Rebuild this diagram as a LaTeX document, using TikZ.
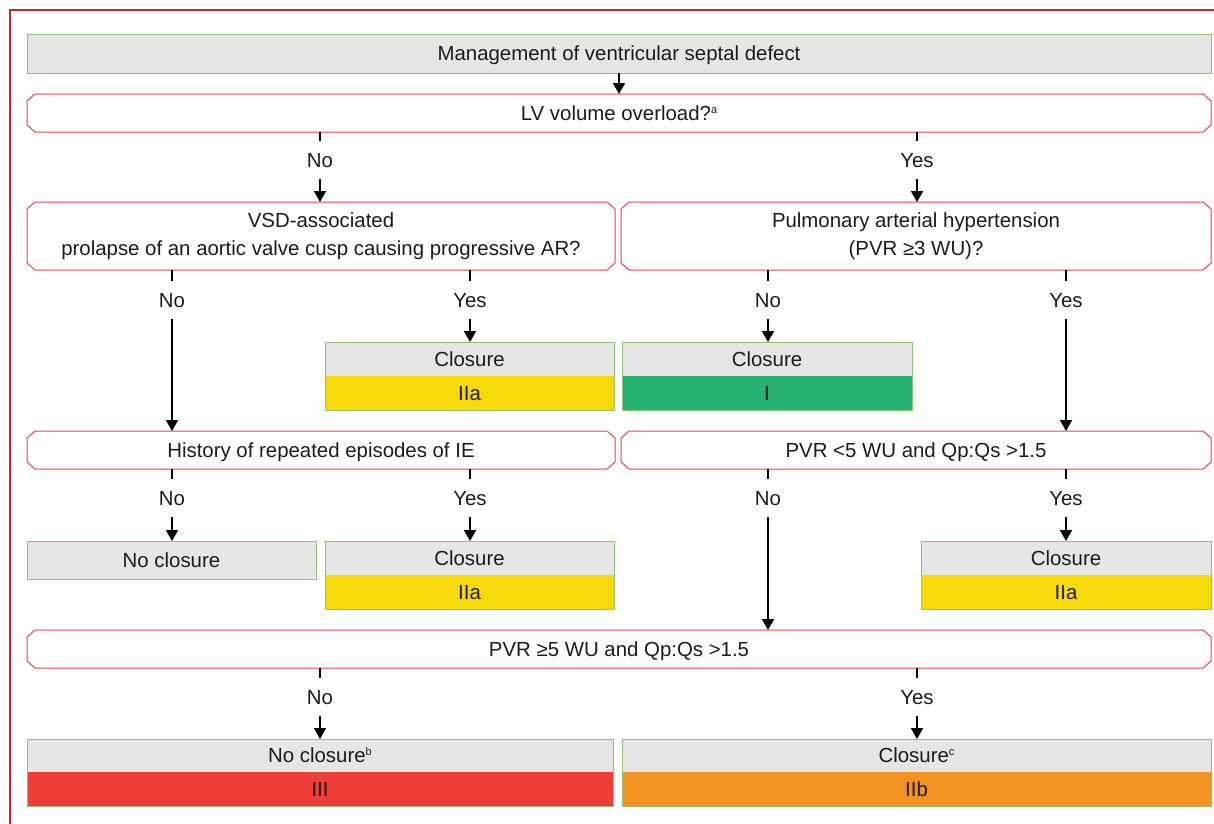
\documentclass[tikz,border=0pt]{standalone}
\usepackage{fontspec}
\setmainfont{Liberation Sans}
\usetikzlibrary{arrows.meta,calc}
\definecolor{framecol}{HTML}{C1272D}
\definecolor{qred}{HTML}{E0474F}
\definecolor{bgreen}{HTML}{8CC47A}
\definecolor{lgray}{HTML}{E6E6E6}
\definecolor{cyel}{HTML}{F7DA0A}
\definecolor{cgrn}{HTML}{27B273}
\definecolor{cred}{HTML}{EF3E36}
\definecolor{corg}{HTML}{F39322}
\definecolor{txt}{HTML}{1E1A1B}
\newcommand\chamfbox[1]{\draw[qline] ($(#1.north west)+(8,0)$) -- ($(#1.north east)+(-8,0)$) -- ($(#1.north east)+(0,7)$) -- ($(#1.south east)+(0,-7)$) -- ($(#1.south east)+(-8,0)$) -- ($(#1.south west)+(8,0)$) -- ($(#1.south west)+(0,-7)$) -- ($(#1.north west)+(0,7)$) -- cycle;}
\newcommand\twobox[2]{\draw[gline] (#1.north west) rectangle (#2.south east);}
\newcommand\supr[1]{\raisebox{7pt}{\fontsize{11}{11}\selectfont #1}}
\begin{document}
\begin{tikzpicture}[x=1pt,y=-1pt,
  base/.style={inner sep=0pt, outer sep=0pt, text=txt, font=\fontsize{20.4}{24}\selectfont, align=center},
  one/.style={base, text height=16.5pt, text depth=2.5pt},
  two/.style={base, font=\fontsize{20.4}{28}\selectfont},
  qline/.style={draw=qred, line width=1pt},
  gline/.style={draw=bgreen, line width=1pt},
  head/.style={one, fill=lgray},
  cls/.style={one, fill=#1},
  lbl/.style={one, minimum height=38pt},
  conn/.style={line width=1.8pt, black},
  arr/.style={conn, -{Triangle[width=12pt,length=11pt]}}
]
\useasboundingbox (0,0) rectangle (1214,823);
\draw[framecol, line width=2pt] (10,830) -- (10,10) -- (1220,10);

% title
\node[head, draw=bgreen, line width=1pt, minimum width=1184pt, minimum height=39pt] (title) at (619,53.5) {Management of ventricular septal defect};
% level 1
\node[one, minimum width=1184pt, minimum height=38pt] (lv) at (619,113) {LV volume overload?\supr{a}};
\chamfbox{lv}
\draw[arr] (title.south) -- (lv.north);
\node[lbl] (l1n) at (320,160) {No};
\node[lbl] (l1y) at (917,160) {Yes};
% level 2
\node[two, minimum width=588pt, minimum height=68pt] (vsd) at (321,236) {VSD-associated\\prolapse of an aortic valve cusp causing progressive AR?};
\chamfbox{vsd}
\node[two, minimum width=590pt, minimum height=68pt] (pah) at (916,236) {Pulmonary arterial hypertension\\(PVR ≥3 WU)?};
\chamfbox{pah}
\draw[conn] (lv.south -| l1n) -- (l1n.north);
\draw[arr] (l1n.south) -- (vsd.north -| l1n);
\draw[conn] (lv.south -| l1y) -- (l1y.north);
\draw[arr] (l1y.south) -- (pah.north -| l1y);
\node[lbl] (l2a) at (172,300) {No};
\node[lbl] (l2b) at (470,300) {Yes};
\node[lbl] (l2c) at (768,300) {No};
\node[lbl] (l2d) at (1066,300) {Yes};
\draw[conn] (vsd.south -| l2a) -- (l2a.north);
\draw[conn] (vsd.south -| l2b) -- (l2b.north);
\draw[conn] (pah.south -| l2c) -- (l2c.north);
\draw[conn] (pah.south -| l2d) -- (l2d.north);
% closure boxes level 2
\node[head, minimum width=289pt, minimum height=34pt] (c1h) at (469.5,359) {Closure};
\node[cls=cyel, minimum width=289pt, minimum height=34pt] (c1c) at (469.5,393) {IIa};
\twobox{c1h}{c1c}
\node[head, minimum width=290pt, minimum height=34pt] (c2h) at (767,359) {Closure};
\node[cls=cgrn, minimum width=290pt, minimum height=34pt] (c2c) at (767,393) {I};
\twobox{c2h}{c2c}
\draw[arr] (l2b.south) -- (c1h.north -| l2b);
\draw[arr] (l2c.south) -- (c2h.north -| l2c);
% level 3
\node[one, minimum width=588pt, minimum height=38pt] (hist) at (321,450) {History of repeated episodes of IE};
\chamfbox{hist}
\node[one, minimum width=590pt, minimum height=38pt] (pvra) at (916,450) {PVR <5 WU and Qp:Qs >1.5};
\chamfbox{pvra}
\draw[arr] (l2a.south) -- (hist.north -| l2a);
\draw[arr] (l2d.south) -- (pvra.north -| l2d);
\node[lbl] (l3a) at (172,498) {No};
\node[lbl] (l3b) at (470,498) {Yes};
\node[lbl] (l3c) at (768,498) {No};
\node[lbl] (l3d) at (1066,498) {Yes};
\draw[conn] (hist.south -| l3a) -- (l3a.north);
\draw[conn] (hist.south -| l3b) -- (l3b.north);
\draw[conn] (pvra.south -| l3c) -- (l3c.north);
\draw[conn] (pvra.south -| l3d) -- (l3d.north);
\node[head, draw=bgreen, line width=1pt, minimum width=289pt, minimum height=38pt] (nc) at (171.5,560) {No closure};
\node[head, minimum width=289pt, minimum height=34pt] (c3h) at (469.5,558) {Closure};
\node[cls=cyel, minimum width=289pt, minimum height=34pt] (c3c) at (469.5,592) {IIa};
\twobox{c3h}{c3c}
\node[head, minimum width=290pt, minimum height=34pt] (c4h) at (1066,558) {Closure};
\node[cls=cyel, minimum width=290pt, minimum height=34pt] (c4c) at (1066,592) {IIa};
\twobox{c4h}{c4c}
\draw[arr] (l3a.south) -- (nc.north -| l3a);
\draw[arr] (l3b.south) -- (c3h.north -| l3b);
\draw[arr] (l3d.south) -- (c4h.north -| l3d);
% level 4
\node[one, minimum width=1184pt, minimum height=38pt] (pvrb) at (619,649) {PVR ≥5 WU and Qp:Qs >1.5};
\chamfbox{pvrb}
\draw[arr] (l3c.south) -- (pvrb.north -| l3c);
\node[lbl] (l4n) at (320,697) {No};
\node[lbl] (l4y) at (917,697) {Yes};
\draw[conn] (pvrb.south -| l4n) -- (l4n.north);
\draw[conn] (pvrb.south -| l4y) -- (l4y.north);
\node[head, minimum width=586pt, minimum height=33pt] (c5h) at (320,755.5) {No closure\supr{b}};
\node[cls=cred, minimum width=586pt, minimum height=34pt] (c5c) at (320,789) {III};
\twobox{c5h}{c5c}
\node[head, minimum width=589pt, minimum height=33pt] (c6h) at (916.5,755.5) {Closure\supr{c}};
\node[cls=corg, minimum width=589pt, minimum height=34pt] (c6c) at (916.5,789) {IIb};
\twobox{c6h}{c6c}
\draw[arr] (l4n.south) -- (c5h.north -| l4n);
\draw[arr] (l4y.south) -- (c6h.north -| l4y);
\end{tikzpicture}
\end{document}
